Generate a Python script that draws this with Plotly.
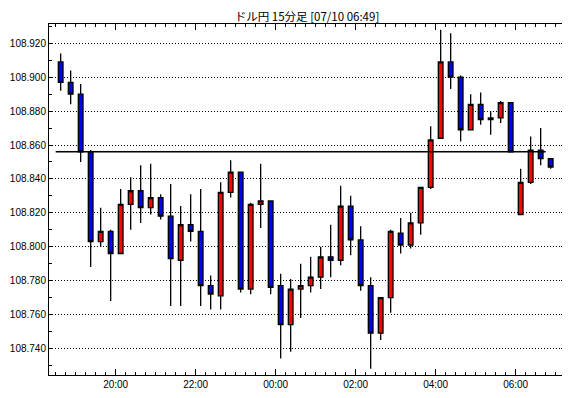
import pandas as pd
import plotly.graph_objects as go

title_text = "ドル円 15分足 [07/10 06:49]"
start_time = "2019-07-09 18:30"
n_bars = 50
times = pd.date_range(start_time, periods=n_bars, freq="15min")

opens = [108.909, 108.897, 108.890, 108.856, 108.803, 108.809, 108.796, 108.825, 108.833, 108.823,
         108.829, 108.818, 108.792, 108.813, 108.809, 108.777, 108.771, 108.832, 108.844, 108.775,
         108.825, 108.827, 108.777, 108.754, 108.775, 108.777, 108.782, 108.794, 108.792, 108.824,
         108.804, 108.777, 108.749, 108.770, 108.808, 108.801, 108.814, 108.835, 108.864, 108.909,
         108.900, 108.869, 108.884, 108.875, 108.876, 108.885, 108.819, 108.838, 108.857, 108.852]
highs = [108.914, 108.904, 108.896, 108.857, 108.823, 108.810, 108.834, 108.841, 108.848, 108.849,
         108.831, 108.837, 108.824, 108.831, 108.834, 108.783, 108.838, 108.851, 108.844, 108.826,
         108.849, 108.827, 108.784, 108.781, 108.790, 108.794, 108.800, 108.813, 108.836, 108.830,
         108.812, 108.782, 108.770, 108.810, 108.817, 108.820, 108.835, 108.871, 108.928, 108.926,
         108.901, 108.890, 108.891, 108.880, 108.886, 108.885, 108.846, 108.865, 108.870, 108.852]
lows = [108.892, 108.884, 108.850, 108.788, 108.800, 108.768, 108.796, 108.810, 108.814, 108.819,
        108.816, 108.765, 108.765, 108.803, 108.765, 108.763, 108.763, 108.829, 108.773, 108.772,
        108.811, 108.772, 108.734, 108.738, 108.758, 108.773, 108.775, 108.782, 108.789, 108.795,
        108.774, 108.728, 108.745, 108.761, 108.796, 108.799, 108.807, 108.834, 108.864, 108.893,
        108.862, 108.869, 108.872, 108.866, 108.873, 108.856, 108.819, 108.837, 108.848, 108.846]
closes = [108.897, 108.890, 108.856, 108.803, 108.809, 108.796, 108.825, 108.833, 108.823, 108.829,
          108.818, 108.793, 108.813, 108.809, 108.777, 108.772, 108.832, 108.844, 108.775, 108.825,
          108.827, 108.776, 108.754, 108.775, 108.777, 108.782, 108.794, 108.792, 108.824, 108.804,
          108.777, 108.749, 108.770, 108.809, 108.801, 108.814, 108.835, 108.863, 108.909, 108.900,
          108.869, 108.884, 108.875, 108.876, 108.885, 108.856, 108.838, 108.857, 108.852, 108.847]

ref_level = 108.856
y_range = [108.7243, 108.9314]
x_range = ["2019-07-09 18:20", "2019-07-10 07:14"]

fig = go.Figure()
fig.add_trace(go.Candlestick(
    x=times, open=opens, high=highs, low=lows, close=closes,
    xperiod=15 * 60 * 1000, xperiodalignment="middle",
    increasing=dict(fillcolor="#FF0000", line=dict(color="black", width=1.3)),
    decreasing=dict(fillcolor="#0000FF", line=dict(color="black", width=1.3)),
    whiskerwidth=0, hoverinfo="skip",
))

fig.add_shape(type="line", xref="x", yref="y",
              x0=times[0], x1=times[-1], y0=ref_level, y1=ref_level,
              line=dict(color="black", width=1.5))

tick_font = dict(family="Liberation Sans", size=10, color="black")

# page body adds an 8px offset; figure sized so the plot lands where the reference has it
fig.update_layout(
    width=562, height=382,
    margin=dict(l=41, r=5, t=16, b=15, autoexpand=False),
    paper_bgcolor="white", plot_bgcolor="white",
    showlegend=False, boxgap=0.33,
    title=dict(text=title_text, x=0.5, xref="paper", y=1 - 8.5 / 382, yref="container",
               yanchor="middle", xanchor="center",
               font=dict(family="Noto Sans CJK JP", size=11.5, color="black")),
    xaxis=dict(
        type="date", range=x_range, rangeslider=dict(visible=False), automargin=False,
        showgrid=False, zeroline=False,
        showline=True, linecolor="black", linewidth=1, mirror="allticks",
        ticks="inside", ticklen=6, tickcolor="black", tickwidth=1,
        dtick=2 * 3600 * 1000, tick0="2019-07-09 00:00", tickformat="%H:%M",
        tickfont=tick_font,
        minor=dict(ticks="inside", ticklen=3, tickcolor="black", tickwidth=1,
                   dtick=15 * 60 * 1000, tick0="2019-07-09 00:00", showgrid=False),
    ),
    yaxis=dict(
        range=y_range, automargin=False,
        showgrid=True, gridcolor="black", gridwidth=1, griddash="1px,2px",
        zeroline=False,
        showline=True, linecolor="black", linewidth=1, mirror="allticks",
        ticks="inside", ticklen=4, tickcolor="black", tickwidth=1,
        dtick=0.02, tick0=108.72, tickformat=".3f", tickfont=tick_font,
        minor=dict(ticks="inside", ticklen=3, tickcolor="black", tickwidth=1,
                   dtick=0.01, tick0=108.72, showgrid=False),
    ),
)

fig.write_html("out.html")
